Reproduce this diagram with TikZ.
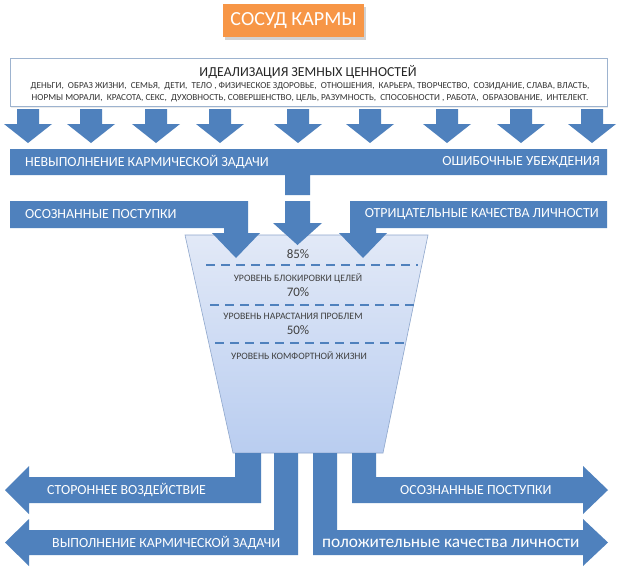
\documentclass[tikz,border=0pt]{standalone}
\usepackage{fontspec}
\setmainfont{Carlito}
\usetikzlibrary{shadows}
\definecolor{kblue}{HTML}{4F81BD}
\definecolor{korange}{HTML}{F79646}
\definecolor{kframe}{HTML}{9DB3CF}
\definecolor{kvtop}{HTML}{E2E9F7}
\definecolor{kvbot}{HTML}{B9CDF0}
\definecolor{kvedge}{HTML}{8FA7CC}
\definecolor{ktext}{HTML}{404040}
\tikzset{
  blockarrow/.style={fill=kblue, draw=none},
  bartext/.style={text=white, font=\fontsize{13.9}{15}\selectfont, inner sep=0pt},
  vasetext/.style={text=ktext, font=\fontsize{9.8}{11}\selectfont, inner sep=0pt},
  pcttext/.style={text=ktext, font=\fontsize{13}{14}\selectfont, inner sep=0pt},
  smalltext/.style={text=black!80, font=\fontsize{9.2}{10}\selectfont, inner sep=0pt},
  levelline/.style={draw=kblue, line width=1.8pt, dash pattern=on 9pt off 6pt}
}
\begin{document}
\begin{tikzpicture}[x=1pt,y=-1pt]
\useasboundingbox (0,0) rectangle (620,573);
\fill[white] (0,0) rectangle (620,573);

% title
\node[fill=korange, text=white, minimum width=141pt, minimum height=33pt, inner sep=0pt,
      font=\fontsize{20}{22}\selectfont,
      drop shadow={opacity=0.35, shadow xshift=1.5pt, shadow yshift=-2.5pt}]
      (title) at (293.5,20.5) {СОСУД КАРМЫ};

% top box
\node[draw=kframe, fill=white, line width=1pt, minimum width=597pt, minimum height=48pt, inner sep=0pt,
      drop shadow={opacity=0.15, shadow xshift=1pt, shadow yshift=-1.5pt}]
      (topbox) at (308.5,82) {};
\node[text=black!85, font=\fontsize{13.7}{15}\selectfont, inner sep=0pt] (ideal) at (308,72) {ИДЕАЛИЗАЦИЯ ЗЕМНЫХ ЦЕННОСТЕЙ};
\node[smalltext] (line1) at (310,86) {ДЕНЬГИ, \ ОБРАЗ ЖИЗНИ, \ СЕМЬЯ, \ ДЕТИ, \ ТЕЛО , ФИЗИЧЕСКОЕ ЗДОРОВЬЕ, \ ОТНОШЕНИЯ, \ КАРЬЕРА, ТВОРЧЕСТВО, \ СОЗИДАНИЕ, СЛАВА, ВЛАСТЬ,};
\node[smalltext] (line2) at (310,98) {НОРМЫ МОРАЛИ, \ КРАСОТА, СЕКС, \ ДУХОВНОСТЬ, СОВЕРШЕНСТВО, ЦЕЛЬ, РАЗУМНОСТЬ, \ СПОСОБНОСТИ , РАБОТА, \ ОБРАЗОВАНИЕ, \ ИНТЕЛЕКТ.};

% row of down arrows
\foreach \cx in {28,91,156,220,298,370,447,521,592}{
  \fill[blockarrow] (\cx-11,109) -- (\cx+11,109) -- (\cx+11,124) -- (\cx+24,124)
     -- (\cx,143) -- (\cx-24,124) -- (\cx-11,124) -- cycle;
}

% bar 1 with stem
\fill[blockarrow] (10,149) -- (607,149) -- (607,175) -- (310,175) -- (310,195)
   -- (285,195) -- (285,175) -- (10,175) -- cycle;
\node[bartext, anchor=west] (nevyp) at (25,162) {НЕВЫПОЛНЕНИЕ КАРМИЧЕСКОЙ ЗАДАЧИ};
\node[bartext, anchor=east] (oshib) at (600,162) {ОШИБОЧНЫЕ УБЕЖДЕНИЯ};

% vase
\shade[top color=kvtop, bottom color=kvbot, draw=kvedge, line width=0.6pt]
   (185,235) -- (428,235) -- (383,453) -- (233,453) -- cycle;
\draw[levelline] (206,265) -- (418,265);
\draw[levelline] (210,305) -- (414,305);
\draw[levelline] (215,343) -- (408,343);
\node[pcttext] (p85) at (298,254) {85\%};
\node[vasetext] (lvl1) at (298,278) {УРОВЕНЬ БЛОКИРОВКИ ЦЕЛЕЙ};
\node[pcttext] (p70) at (298,292) {70\%};
\node[vasetext] (lvl2) at (293,316) {УРОВЕНЬ НАРАСТАНИЯ ПРОБЛЕМ};
\node[pcttext] (p50) at (298,330) {50\%};
\node[vasetext] (lvl3) at (299,356) {УРОВЕНЬ КОМФОРТНОЙ ЖИЗНИ};

% bar 2 left, turning down
\fill[blockarrow] (10,201) -- (248,201) -- (248,233) -- (260,233) -- (236,258)
   -- (212,233) -- (224,233) -- (224,228) -- (10,228) -- cycle;
\node[bartext, anchor=west] (osozn1) at (25,214.5) {ОСОЗНАННЫЕ ПОСТУПКИ};

% middle arrow
\fill[blockarrow] (285,201) -- (310,201) -- (310,223) -- (322,223) -- (297.5,245)
   -- (273,223) -- (285,223) -- cycle;

% bar 2 right, turning down
\fill[blockarrow] (350,201) -- (607,201) -- (607,228) -- (376,228) -- (376,233)
   -- (387,233) -- (363,258) -- (339,233) -- (350,233) -- cycle;
\node[bartext, anchor=east] (otric) at (599,214.5) {ОТРИЦАТЕЛЬНЫЕ КАЧЕСТВА ЛИЧНОСТИ};

% bottom arrows
\fill[blockarrow] (235,453) -- (261,453) -- (261,503) -- (29,503) -- (29,514)
   -- (5,490) -- (29,466) -- (29,477) -- (235,477) -- cycle;
\fill[blockarrow] (274,453) -- (298,453) -- (298,555) -- (29,555) -- (29,566)
   -- (5,542.5) -- (29,519) -- (29,530) -- (274,530) -- cycle;
\fill[blockarrow] (352,453) -- (376,453) -- (376,477) -- (583,477) -- (583,466)
   -- (608,490) -- (583,514) -- (583,503) -- (352,503) -- cycle;
\fill[blockarrow] (313,453) -- (337,453) -- (337,530) -- (583,530) -- (583,519)
   -- (608,542.5) -- (583,566) -- (583,555) -- (313,555) -- cycle;

\node[bartext, anchor=west] (storon) at (47,490) {СТОРОННЕЕ ВОЗДЕЙСТВИЕ};
\node[bartext, anchor=west] (vypoln) at (52,543) {ВЫПОЛНЕНИЕ КАРМИЧЕСКОЙ ЗАДАЧИ};
\node[bartext, anchor=west] (osozn2) at (400,490) {ОСОЗНАННЫЕ ПОСТУПКИ};
\node[bartext, anchor=west, font=\fontsize{17.3}{19}\selectfont] (polozh) at (322,543) {положительные качества личности};
\end{tikzpicture}
\end{document}
